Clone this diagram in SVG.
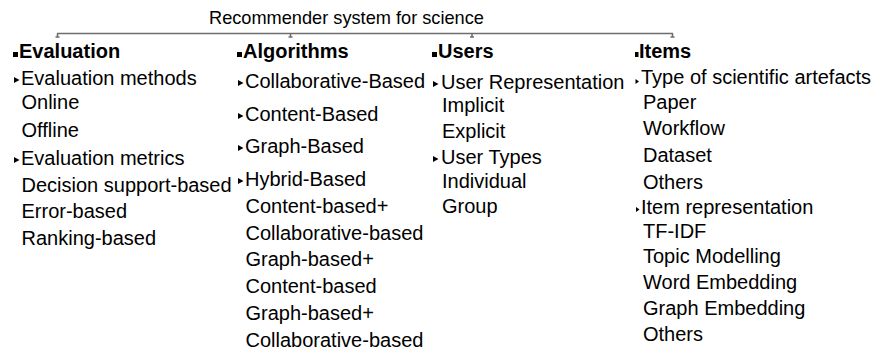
<svg xmlns="http://www.w3.org/2000/svg" xmlns:xlink="http://www.w3.org/1999/xlink" width="877" height="356" viewBox="0 0 877 356">
<defs>
<style>
text{font-family:"Liberation Sans",Arial,sans-serif;font-size:20px;fill:#000}
.h{font-weight:bold}
.t{font-size:18.2px}
.con{stroke:#6e6e6e;stroke-width:1.6;fill:none}
.mk{fill:#000}
</style>
<symbol id="sq" overflow="visible"><rect class="mk" x="0" y="0" width="5" height="5"/></symbol>
<symbol id="tri" overflow="visible"><polygon class="mk" points="0,0 5.5,3 0,6"/></symbol>
<symbol id="tris" overflow="visible"><polygon class="mk" points="0,0 3.5,2.5 0,5"/></symbol>
</defs>
<rect width="877" height="356" fill="#fff"/>
<g id="root"><text class="t" x="209" y="24">Recommender system for science</text></g>
<g id="connectors">
<path class="con" d="M57,33.5H673"/>
<path class="con" d="M57.5,33.5V37M55.5,37H59.5M290.5,33.5V37M288.5,37H292.5M472,33.5V37M470,37H474M672.5,33.5V37M670.5,37H674.5" stroke-width="1"/>
</g>
<g id="evaluation">
<use href="#sq" x="13" y="52"/><text class="h" x="19" y="58">Evaluation</text>
<use href="#tri" x="14" y="77"/><text x="21" y="85">Evaluation methods</text>
<text x="21.5" y="109">Online</text>
<text x="21.5" y="137">Offline</text>
<use href="#tri" x="14" y="157"/><text x="21" y="165">Evaluation metrics</text>
<text x="21.5" y="192">Decision support-based</text>
<text x="21.5" y="218">Error-based</text>
<text x="21.5" y="245">Ranking-based</text>
</g>
<g id="algorithms">
<use href="#sq" x="237" y="52"/><text class="h" x="243" y="58">Algorithms</text>
<use href="#tri" x="238" y="80"/><text x="245" y="88">Collaborative-Based</text>
<use href="#tri" x="238" y="113"/><text x="245" y="121">Content-Based</text>
<use href="#tri" x="238" y="145"/><text x="245" y="153">Graph-Based</text>
<use href="#tri" x="238" y="178"/><text x="245" y="186">Hybrid-Based</text>
<text x="245.5" y="213">Content-based+</text>
<text x="245.5" y="240">Collaborative-based</text>
<text x="245.5" y="266">Graph-based+</text>
<text x="245.5" y="293">Content-based</text>
<text x="245.5" y="320">Graph-based+</text>
<text x="245.5" y="347">Collaborative-based</text>
</g>
<g id="users">
<use href="#sq" x="432" y="52"/><text class="h" x="438" y="58">Users</text>
<use href="#tri" x="433" y="81"/><text x="441" y="89">User Representation</text>
<text x="442" y="112">Implicit</text>
<text x="442" y="138">Explicit</text>
<use href="#tri" x="433" y="156"/><text x="441" y="164">User Types</text>
<text x="442" y="188">Individual</text>
<text x="442" y="213">Group</text>
</g>
<g id="items">
<rect class="mk" x="635" y="52" width="3.5" height="5"/><text class="h" x="639" y="58">Items</text>
<use href="#tris" x="635.5" y="79"/><text x="641" y="84">Type of scientific artefacts</text>
<text x="643" y="109">Paper</text>
<text x="643" y="135">Workflow</text>
<text x="643" y="162">Dataset</text>
<text x="643" y="189">Others</text>
<use href="#tris" x="636" y="207"/><text x="641" y="214">Item representation</text>
<text x="643" y="238">TF-IDF</text>
<text x="643" y="263">Topic Modelling</text>
<text x="643" y="289">Word Embedding</text>
<text x="643" y="315">Graph Embedding</text>
<text x="643" y="341">Others</text>
</g>
</svg>
